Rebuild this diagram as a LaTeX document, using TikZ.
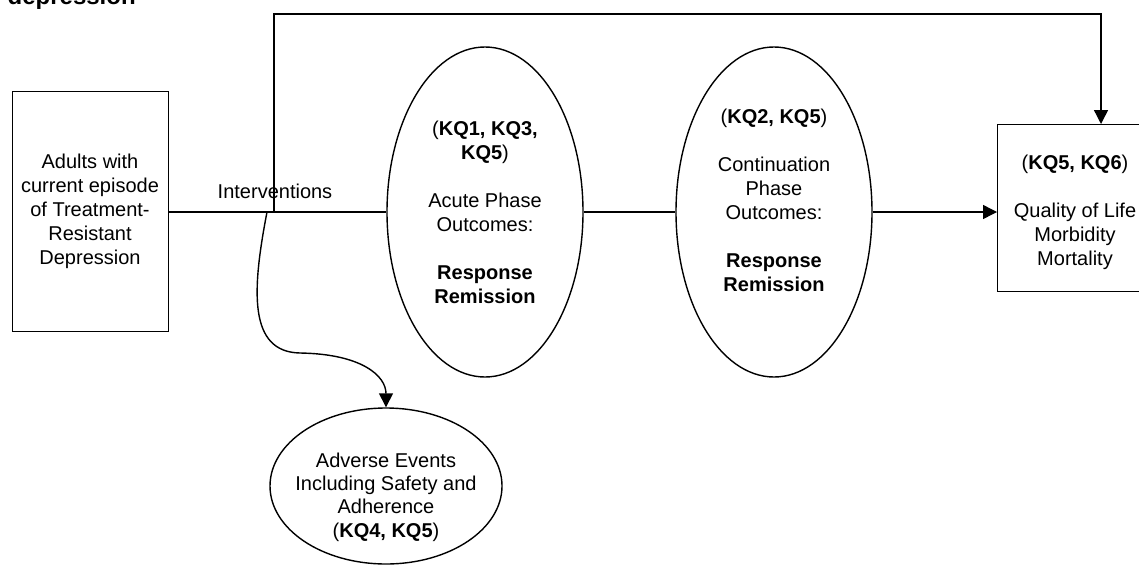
\documentclass[tikz,border=0pt]{standalone}
\usepackage{fontspec}
\setmainfont{Liberation Sans}
\usetikzlibrary{shapes.geometric,arrows.meta}
\begin{document}
\begin{tikzpicture}[x=1pt,y=-1pt,
  line width=1.4pt,
  txt/.style={font=\fontsize{20}{24}\selectfont, align=center, inner sep=0pt},
  boxshape/.style={draw, rectangle, inner sep=0pt, anchor=north west},
  oval/.style={draw, ellipse, inner sep=0pt},
  arr/.style={-{Triangle[length=14pt,width=14pt]}}]
\useasboundingbox (0,0) rectangle (1139,565);

% caption tail
\node[anchor=base west, inner sep=0pt, font=\fontsize{24}{28}\selectfont\bfseries] (cap) at (7,4) {depression};

% population box
\node[boxshape, minimum width=156pt, minimum height=240pt] (pop) at (12,91) {};
\node[txt] (poptxt) at (90,211) {Adults with\\current episode\\of Treatment-\\Resistant\\Depression};

% acute phase outcomes
\node[oval, minimum width=196pt, minimum height=330pt] (acute) at (485,212) {};
\node[txt] (acutetxt) at (485,212) {(\textbf{KQ1, KQ3,}\\\textbf{KQ5})\\[24pt]Acute Phase\\Outcomes:\\[24pt]\textbf{Response}\\\textbf{Remission}};

% continuation phase outcomes
\node[oval, minimum width=196pt, minimum height=330pt] (cont) at (774,212) {};
\node[txt] (conttxt) at (774,200) {(\textbf{KQ2, KQ5})\\[24pt]Continuation\\Phase\\Outcomes:\\[24pt]\textbf{Response}\\\textbf{Remission}};

% long-term outcomes box
\node[boxshape, minimum width=156pt, minimum height=167pt] (final) at (997,124) {};
\node[txt] (finaltxt) at (1075,212) {(\textbf{KQ5, KQ6})\\[24pt]Quality of Life\\Morbidity\\Mortality};

% adverse events
\node[oval, minimum width=232pt, minimum height=156pt] (adv) at (386,486) {};
\node[txt, font=\fontsize{20}{23.3}\selectfont] (advtxt) at (386,497) {Adverse Events\\Including Safety and\\Adherence\\(\textbf{KQ4, KQ5})};

% interventions label
\node[txt] (intv) at (275,191) {Interventions};

% connectors
\coordinate (split) at (274,212);
\coordinate (branch) at (267,212);
\coordinate (drop) at (1101,14);

\draw (pop.east |- acute.west) -- (acute.west);
\draw (acute.east) -- (cont.west);
\draw[arr] (cont.east) -- (cont.east -| final.west);
\draw[arr] (split) |- (drop) -- (drop |- final.north);
\draw[arr] (branch) .. controls (252,290) and (248,352) .. (300,353)
  .. controls (362,354) and (386,376) .. (adv.north);
\end{tikzpicture}
\end{document}
